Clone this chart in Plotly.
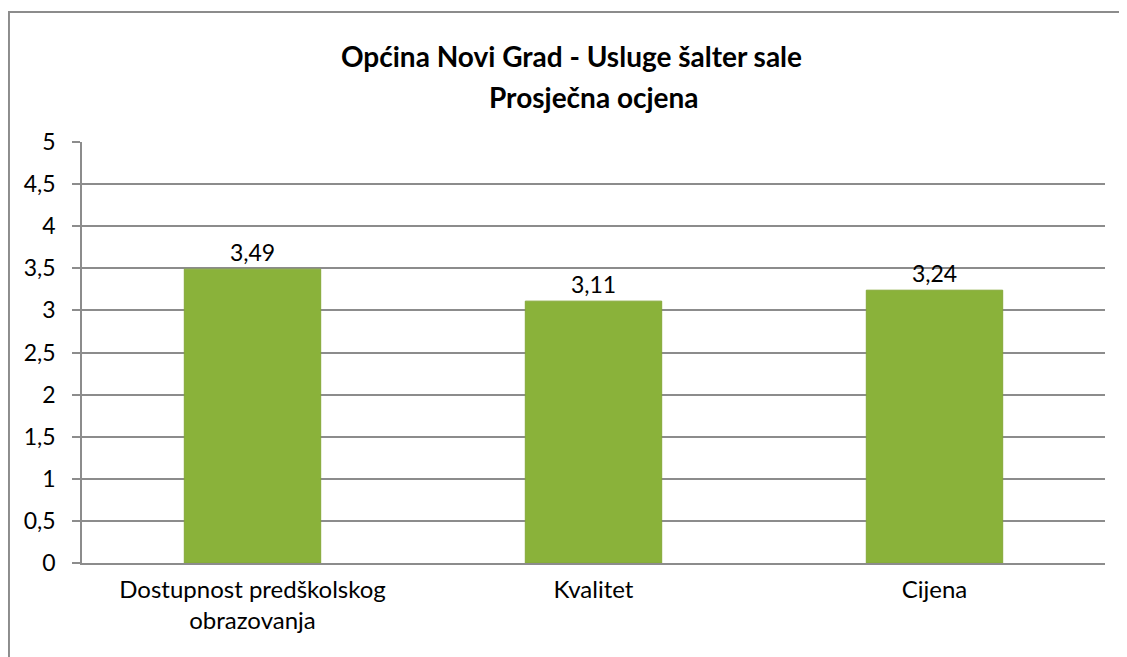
import plotly.graph_objects as go

categories = ["Dostupnost predškolskog<br>obrazovanja", "Kvalitet", "Cijena"]
values = [3.49, 3.11, 3.24]
y_ticks = [0, 0.5, 1, 1.5, 2, 2.5, 3, 3.5, 4, 4.5, 5]
title_lines = ["Općina Novi Grad - Usluge šalter sale", "Prosječna ocjena"]

FONT = "Lato, Calibri, Carlito, sans-serif"
GRID = "#8c8c8c"

fig = go.Figure()
fig.add_trace(go.Bar(
    x=categories,
    y=values,
    marker=dict(color="#8ab23a", line=dict(color="#84a838", width=1)),
    width=0.4,
    text=values,
    texttemplate="%{y:.2f}",
    textposition="outside",
    textfont=dict(size=23, color="#000000", family=FONT),
    cliponaxis=False,
    hoverinfo="skip",
))

fig.update_layout(
    width=1127,
    height=657,
    separators=", ",
    paper_bgcolor="white",
    plot_bgcolor="white",
    margin=dict(l=74, r=30, t=134, b=102),
    font=dict(family=FONT, size=23, color="#000000"),
    title=dict(
        text="<b>" + title_lines[0] + "</b>",
        x=0.5, xanchor="center",
        y=0.9254, yanchor="middle",
        font=dict(size=28, family=FONT, color="#000000"),
    ),
    annotations=[dict(
        text="<b>" + title_lines[1] + "</b>",
        xref="paper", yref="paper", x=0.5, y=1.1069,
        xanchor="center", yanchor="middle", showarrow=False,
        font=dict(size=28, family=FONT, color="#000000"),
    )],
    showlegend=False,
    shapes=[dict(
        type="rect", xref="paper", yref="paper",
        x0=-0.0714, x1=1.03, y0=-0.24, y1=1.3088,
        line=dict(color=GRID, width=2), layer="below",
    )],
)

fig.update_yaxes(
    range=[0, 5],
    tickvals=y_ticks,
    showgrid=True, gridcolor=GRID, gridwidth=1.5,
    showline=True, linecolor=GRID, linewidth=1.5,
    ticks="outside", ticklen=8, tickcolor=GRID, tickwidth=1.5,
    ticklabelstandoff=12,
    tickfont=dict(size=23, family=FONT),
    zeroline=False,
)
fig.update_xaxes(
    showline=True, linecolor=GRID, linewidth=1.5,
    ticks="", ticklabelstandoff=4,
    tickfont=dict(size=24, family=FONT),
)

fig.write_html("out.html")
